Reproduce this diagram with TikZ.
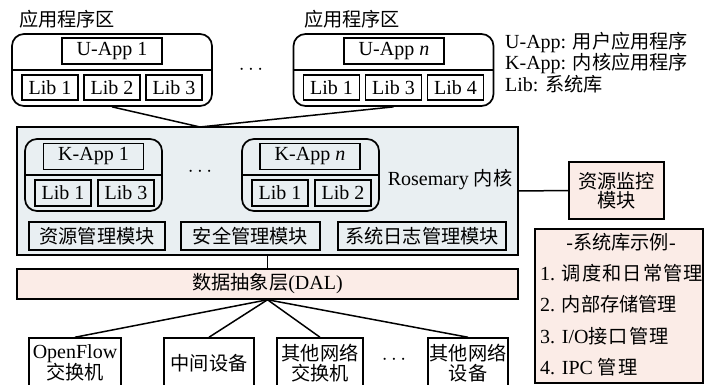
\documentclass[tikz,border=0pt]{standalone}
\usepackage{fontspec}
\setmainfont{Liberation Serif}
\newfontfamily\cjk[Scale=0.96]{Noto Sans CJK SC}
\newfontfamily\cjkw[Scale=0.96,LetterSpace=6]{Noto Sans CJK SC}
\newcommand\zh[1]{{\cjk #1}}
\newcommand\zhw[1]{{\cjkw #1}}
\definecolor{kfill}{RGB}{233,239,242}
\definecolor{pfill}{RGB}{251,236,231}
\begin{document}
\begin{tikzpicture}[x=1pt,y=-1pt,
  font=\fontsize{20}{20}\selectfont,
  box/.style={draw, line width=1.5pt, inner sep=0pt, align=center},
  rbox/.style={draw, line width=1.7pt, rounded corners=12pt, inner sep=0pt},
  libbox/.style={box, minimum width=56pt, minimum height=25pt},
  appbox/.style={box, minimum width=100pt, minimum height=26pt},
  modbox/.style={box, minimum height=28pt},
  devbox/.style={box, minimum height=50pt},
  conn/.style={line width=1.5pt},
  lbl/.style={inner sep=0pt, align=left}]
\useasboundingbox (0,0) rectangle (706,385);

% labels
\node[lbl] (z1) at (67,19) {\zh{应用程序区}};
\node[lbl] (z2) at (352,19) {\zh{应用程序区}};
\node[lbl, anchor=west] (leg1) at (505,42) {U-App: \zh{用户应用程序}};
\node[lbl, anchor=west] (leg2) at (505,63) {K-App: \zh{内核应用程序}};
\node[lbl, anchor=west] (leg3) at (505,84) {Lib: \zh{系统库}};

% user app 1
\node[rbox, minimum width=200pt, minimum height=72pt] (ua1) at (112,70) {};
\draw[line width=1.5pt] (ua1.west) -- (ua1.east);
\node[appbox] (ua1a) at (112,51) {U-App 1};
\node[libbox] (ua1l1) at (50,87.5) {Lib 1};
\node[libbox] (ua1l2) at (112,87.5) {Lib 2};
\node[libbox] (ua1l3) at (174,87.5) {Lib 3};

\node[lbl] (dots1) at (251,70) {$\cdots$};

% user app n
\node[rbox, minimum width=200pt, minimum height=72pt] (uan) at (393.5,70) {};
\draw[line width=1.5pt] (uan.west) -- (uan.east);
\node[appbox] (uana) at (394,51) {U-App \textit{n}};
\node[libbox] (uanl1) at (331.5,87.5) {Lib 1};
\node[libbox] (uanl3) at (393.5,87.5) {Lib 3};
\node[libbox] (uanl4) at (455.5,87.5) {Lib 4};

% kernel
\node[box, fill=kfill, minimum width=501pt, minimum height=128pt] (kern) at (267.5,191) {};
\coordinate (j) at (200,127);
\draw[conn] (ua1.south) -- (j);
\draw[conn] (uan.south) -- (j);

\node[rbox, minimum width=137pt, minimum height=72pt] (k1) at (93.5,175) {};
\draw[line width=1.5pt] (k1.west) -- (k1.east);
\node[appbox] (k1a) at (93.5,156.5) {K-App 1};
\node[libbox, minimum height=26pt] (k1l1) at (63,193) {Lib 1};
\node[libbox, minimum height=26pt] (k1l3) at (126,193) {Lib 3};

\node[lbl] (dots2) at (200,172) {$\cdots$};

\node[rbox, minimum width=137pt, minimum height=72pt] (kn) at (310.5,175) {};
\draw[line width=1.5pt] (kn.west) -- (kn.east);
\node[appbox] (kna) at (310,156.5) {K-App \textit{n}};
\node[libbox, minimum height=26pt] (knl1) at (280,193) {Lib 1};
\node[libbox, minimum height=26pt] (knl2) at (343,193) {Lib 2};

\node[lbl] (rose) at (450,180) {Rosemary \zh{内核}};

\node[modbox, minimum width=136pt] (m1) at (97,236) {\zh{资源管理模块}};
\node[modbox, minimum width=139pt] (m2) at (250.5,236) {\zh{安全管理模块}};
\node[modbox, minimum width=168pt] (m3) at (422,236) {\zh{系统日志管理模块}};

% monitor
\node[box, fill=pfill, minimum width=95pt, minimum height=57pt,
      font=\fontsize{20}{19}\selectfont] (mon) at (616.5,190.5) {\zh{资源监控}\\\zh{模块}};
\draw[conn] (kern.east) -- (mon.west);

% DAL
\node[box, fill=pfill, minimum width=501pt, minimum height=30pt] (dal) at (267.5,284) {\zh{数据抽象层}(DAL)};
\draw[conn] (kern.south) -- (dal.north);

% devices
\node[devbox, minimum width=92pt] (d1) at (75,363) {OpenFlow\\\zh{交换机}};
\node[devbox, minimum width=90pt] (d2) at (209,363) {\zh{中间设备}};
\node[devbox, minimum width=86pt] (d3) at (320,363) {\zh{其他网络}\\\zh{交换机}};
\node[lbl] (dots3) at (394,360) {$\cdots$};
\node[devbox, minimum width=80pt] (d4) at (468,363) {\zh{其他网络}\\\zh{设备}};
\foreach \d in {d1,d2,d3,d4}{\draw[conn] (dal.south) -- (\d.north);}

% library examples
\node[box, fill=pfill, minimum width=168pt, minimum height=154pt] (ex) at (619,306) {};
\node[lbl] (ext) at (621,242) {-\zh{系统库示例}-};
\node[lbl, anchor=west] (ex1) at (540,273) {1. \zhw{调度和日常管理}};
\node[lbl, anchor=west] (ex2) at (540,304) {2. \zh{内部存储管理}};
\node[lbl, anchor=west] (ex3) at (540,336) {3. I/O\zhw{接口管理}};
\node[lbl, anchor=west] (ex4) at (540,367) {4. IPC \zhw{管理}};
\end{tikzpicture}
\end{document}
